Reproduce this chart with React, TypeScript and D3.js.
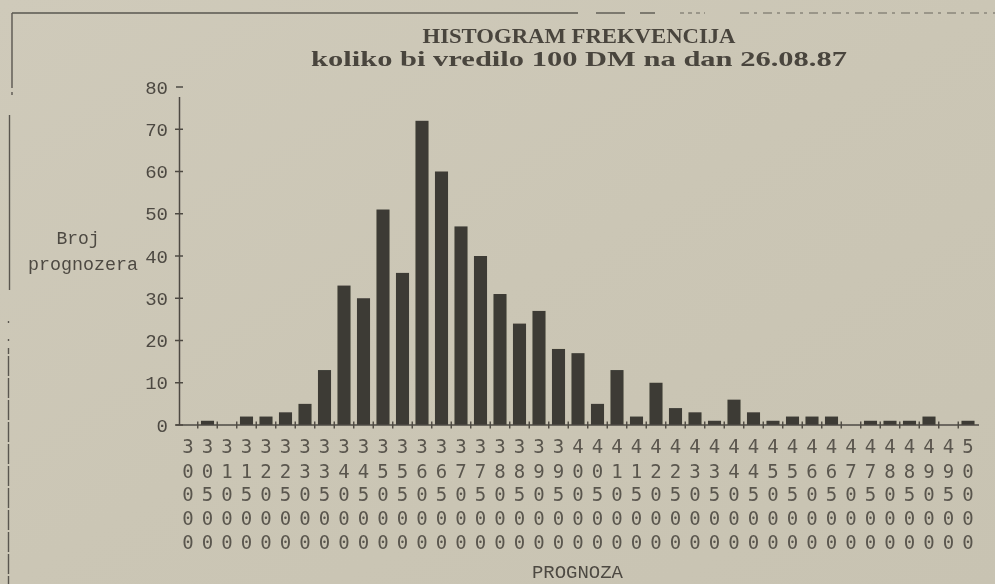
import React from "react";
import * as d3 from "d3";

const categories: string[] = d3.range(30000, 50001, 500).map(String);
const counts: number[] = [
  0, 1, 0, 2, 2, 3, 5, 13, 33, 30,
  51, 36, 72, 60, 47, 40, 31, 24, 27, 18,
  17, 5, 13, 2, 10, 4, 3, 1, 6, 3,
  1, 2, 2, 2, 0, 1, 1, 1, 2, 0, 1,
];
const yTicks: number[] = [0, 10, 20, 30, 40, 50, 60, 70, 80];
const titleLines: string[] = ["HISTOGRAM FREKVENCIJA", "koliko bi vredilo 100 DM na dan 26.08.87"];
const yLabelLines: string[] = ["Broj", "prognozera"];
const xLabel = "PROGNOZA";

const W = 995;
const H = 584;
const INK = "#4e4a43";
const BAR = "#3c3a34";
const MONO = "'Liberation Mono', monospace";
const DIGIT = "'DejaVu Sans Mono', monospace";

export default function App() {
  const x = d3
    .scaleBand<string>()
    .domain(categories)
    .range([178.25, 977.75])
    .paddingInner(0.33)
    .paddingOuter(0.165);
  const y = d3.scaleLinear().domain([0, 80]).range([425, 87]);
  const step = x.step();
  const bw = x.bandwidth();
  const center = (c: string) => (x(c) as number) + bw / 2;
  const y0 = y(0);
  const axisX = 179.5;

  const rowCenters = [446, 471, 494, 518, 542];

  return (
    <svg
      width={W}
      height={H}
      style={{ position: "absolute", left: 0, top: 0, background: "#ccc7b6" }}
    >
      <defs>
        <filter id="scan" x="-5%" y="-5%" width="110%" height="110%">
          <feGaussianBlur stdDeviation="0.45" />
        </filter>
        <linearGradient id="paper" x1="0" y1="0" x2="1" y2="1">
          <stop offset="0" stopColor="#cfcaba" />
          <stop offset="0.5" stopColor="#cbc6b5" />
          <stop offset="1" stopColor="#c8c3b2" />
        </linearGradient>
      </defs>
      <rect x={0} y={0} width={W} height={H} fill="url(#paper)" />
      <g filter="url(#scan)">
        {/* frame fragments */}
        <line x1={12} y1={13} x2={578} y2={13} stroke="#5a564f" strokeWidth={1.4} />
        <line x1={596} y1={13} x2={625} y2={13} stroke="#5a564f" strokeWidth={1.4} />
        <line x1={640} y1={13} x2={655} y2={13} stroke="#5a564f" strokeWidth={1.4} />
        <line x1={680} y1={13} x2={705} y2={13} stroke="#6a665f" strokeWidth={1.2} strokeDasharray="4 4" />
        <line x1={740} y1={13} x2={995} y2={13} stroke="#6a665f" strokeWidth={1.2} strokeDasharray="9 5 3 6" />
        <line x1={12} y1={13} x2={12} y2={88} stroke="#5a564f" strokeWidth={1.4} />
        <line x1={12} y1={92} x2={12} y2={95} stroke="#5a564f" strokeWidth={1.4} />
        <line x1={9.5} y1={115} x2={9.5} y2={290} stroke="#5a564f" strokeWidth={1.4} />
        <line x1={8.5} y1={321} x2={8.5} y2={323} stroke="#5a564f" strokeWidth={1.4} />
        <line x1={8.5} y1={339} x2={8.5} y2={341} stroke="#5a564f" strokeWidth={1.4} />
        <line x1={8.5} y1={348} x2={8.5} y2={584} stroke="#5a564f" strokeWidth={1.4} strokeDasharray="6 2 14 0" />

        {/* title */}
        {titleLines.map((t, i) => (
          <text
            key={t}
            x={579}
            y={i === 0 ? 43 : 66}
            textAnchor="middle"
            fontFamily="'Liberation Serif', serif"
            fontWeight="bold"
            fontSize={22}
            fill="#4a453e"
            textLength={i === 0 ? 313 : 536}
            lengthAdjust="spacingAndGlyphs"
          >
            {t}
          </text>
        ))}

        {/* y axis */}
        <line x1={axisX} y1={97} x2={axisX} y2={y0} stroke={INK} strokeWidth={1.5} />
        {yTicks.map((t) => (
          <g key={t}>
            <line x1={t === 80 ? 176 : 175} x2={183} y1={y(t)} y2={y(t)} stroke={INK} strokeWidth={1.5} />
            <text x={168} y={y(t) + 6.5} textAnchor="end" fontFamily={MONO} fontSize={19} fill={INK}>
              {t}
            </text>
          </g>
        ))}
        <text x={78} y={244} textAnchor="middle" fontFamily={MONO} fontSize={18} fill={INK}>
          {yLabelLines[0]}
        </text>
        <text x={83} y={270} textAnchor="middle" fontFamily={MONO} fontSize={18} fill={INK}
          textLength={110} lengthAdjust="spacingAndGlyphs">
          {yLabelLines[1]}
        </text>

        {/* bars */}
        {categories.map((c, i) =>
          counts[i] > 0 ? (
            <rect key={c} x={x(c)} y={y(counts[i])} width={bw} height={y0 - y(counts[i])} fill={BAR} />
          ) : null
        )}

        {/* x axis */}
        <line x1={176} y1={y0} x2={979} y2={y0} stroke={INK} strokeWidth={1.6} />
        {categories.slice(0, -1).map((c) => (
          <line
            key={"t" + c}
            x1={center(c) + step / 2}
            x2={center(c) + step / 2}
            y1={y0 - 3.5}
            y2={y0 + 3.5}
            stroke={INK}
            strokeWidth={1.4}
          />
        ))}

        {/* x tick labels as vertical digit stacks */}
        {categories.map((c) =>
          c.split("").map((ch, r) => (
            <text
              key={c + "-" + r}
              x={center(c)}
              y={rowCenters[r] + 7}
              textAnchor="middle"
              fontFamily={DIGIT}
              fontSize={19}
              fill="#5a564e"
            >
              {ch}
            </text>
          ))
        )}
        <text x={577.5} y={578} textAnchor="middle" fontFamily={MONO} fontSize={19} fill={INK}
          textLength={91} lengthAdjust="spacingAndGlyphs">
          {xLabel}
        </text>
      </g>
    </svg>
  );
}
